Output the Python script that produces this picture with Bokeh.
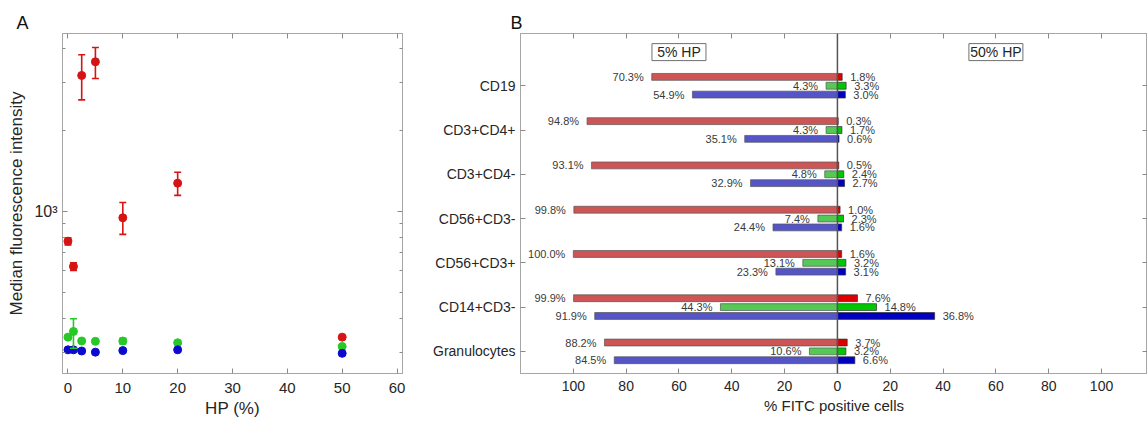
from bokeh.plotting import figure
from bokeh.models import (Range1d, FixedTicker, LinearAxis, LogAxis, Whisker,
                          TeeHead, ColumnDataSource, Span)
from bokeh.layouts import row
from bokeh.embed import file_html
from bokeh.resources import INLINE
from bokeh.core.properties import value

# ---------------- Panel A data ----------------
hp = [0, 1, 2.5, 5, 10, 20, 50]
red_mfi = [774, 624, 3187, 3581, 945, 1270, 341]
red_lo = [750, 603, 2588, 3105, 820, 1144, 341]
red_hi = [797, 644, 3802, 4047, 1077, 1395, 341]
green_mfi = [341, 358, 330, 329, 330, 325, 315]
green_lo = [341, 310, 330, 329, 322, 325, 315]
green_hi = [341, 399, 330, 329, 338, 325, 315]
blue_mfi = [306, 306, 303, 300, 304, 306, 297]
blue_lo = [306, 306, 303, 300, 304, 306, 297]
blue_hi = [306, 306, 303, 300, 304, 306, 297]

a_xticks = [0, 10, 20, 30, 40, 50, 60]
a_yticks = [1000]
a_yminor = [300, 400, 500, 600, 700, 800, 900, 2000, 3000, 4000]

# ---------------- Panel B data ----------------
cells = ["CD19", "CD3+CD4+", "CD3+CD4-", "CD56+CD3-", "CD56+CD3+", "CD14+CD3-", "Granulocytes"]
red5 = [70.3, 94.8, 93.1, 99.8, 100.0, 99.9, 88.2]
green5 = [4.3, 4.3, 4.8, 7.4, 13.1, 44.3, 10.6]
blue5 = [54.9, 35.1, 32.9, 24.4, 23.3, 91.9, 84.5]
red50 = [1.8, 0.3, 0.5, 1.0, 1.6, 7.6, 3.7]
green50 = [3.3, 1.7, 2.4, 2.3, 3.2, 14.8, 3.2]
blue50 = [3.0, 0.6, 2.7, 1.6, 3.1, 36.8, 6.6]
b_xticks = [-100, -80, -60, -40, -20, 0, 20, 40, 60, 80, 100]
group_labels = ["5% HP", "50% HP"]
group_x = [-60, 60]

FONT = "Liberation Sans"
TXT = "#262626"
FRAME = "#a6a6a6"
TICK = "#8a8a8a"


def style_axis(ax, labels=True, fs="15px"):
    ax.axis_line_color = FRAME
    ax.major_tick_line_color = TICK
    ax.minor_tick_line_color = TICK
    ax.major_tick_in = 5
    ax.major_tick_out = 0
    ax.minor_tick_in = 3
    ax.minor_tick_out = 0
    ax.major_label_text_font = FONT
    ax.major_label_text_color = TXT
    ax.axis_label_text_font = FONT
    ax.axis_label_text_color = TXT
    ax.axis_label_text_font_style = "normal"
    if labels:
        ax.major_label_text_font_size = fs
    else:
        ax.major_label_text_font_size = "1px"
        ax.major_label_text_alpha = 0
        ax.major_label_standoff = 0
        ax.axis_label_standoff = 0


def panel_letter(p, letter, offset):
    p.title.text = letter
    p.title.align = "left"
    p.title.offset = offset
    p.title.text_font = FONT
    p.title.text_font_size = "18px"
    p.title.text_font_style = "normal"
    p.title.text_color = "#111111"
    p.title.standoff = 2


# ================= Panel A =================
pA = figure(width=430, height=422, x_range=Range1d(-1, 61), y_range=Range1d(250, 4560),
            y_axis_type="log", output_backend="svg", toolbar_location=None,
            min_border_left=62, min_border_right=28, min_border_top=33, min_border_bottom=49)
pA.xgrid.visible = False
pA.ygrid.visible = False
pA.outline_line_color = FRAME

pA.xaxis.ticker = FixedTicker(ticks=a_xticks)
pA.yaxis.ticker = FixedTicker(ticks=a_yticks, minor_ticks=a_yminor)
pA.yaxis.major_label_overrides = {1000: "10\u00b3"}
pA.xaxis.axis_label = "HP (%)"
pA.yaxis.axis_label = "Median fluorescence intensity"
for ax in pA.xaxis + pA.yaxis:
    style_axis(ax)
    ax.axis_label_text_font_size = "17px"
pA.yaxis.major_label_text_font_size = "16px"
pA.xaxis.major_label_standoff = 9
pA.xaxis.axis_label_standoff = 3
pA.yaxis.major_label_standoff = 5
pA.yaxis.axis_label_standoff = 5

top_ax = LinearAxis(ticker=FixedTicker(ticks=a_xticks))
style_axis(top_ax, labels=False)
pA.add_layout(top_ax, "above")
right_ax = LogAxis(ticker=FixedTicker(ticks=a_yticks, minor_ticks=a_yminor))
style_axis(right_ax, labels=False)
pA.add_layout(right_ax, "right")

series = [
    (red_mfi, red_lo, red_hi, "#d61414"),
    (green_mfi, green_lo, green_hi, "#27c927"),
    (blue_mfi, blue_lo, blue_hi, "#0a0ad0"),
]
for mfi, lo, hi, col in series:
    idx = [i for i in range(len(hp)) if hi[i] > lo[i]]
    src = ColumnDataSource(dict(x=[hp[i] for i in idx], lo=[lo[i] for i in idx],
                                hi=[hi[i] for i in idx]))
    w = Whisker(base="x", lower="lo", upper="hi", source=src, dimension="height",
                line_color=col, line_width=1.6, level="glyph",
                upper_head=TeeHead(size=7, line_color=col, line_width=1.6),
                lower_head=TeeHead(size=7, line_color=col, line_width=1.6))
    pA.add_layout(w)
for mfi, lo, hi, col in series:
    pA.scatter(hp, mfi, size=8, fill_color=col, line_color=col)

panel_letter(pA, "A", -46)

# ================= Panel B =================
n = len(cells)
ypos = [n - i for i in range(n)]
off = 0.2
bar_h = 0.155
label_y = n + 0.76

pB = figure(width=717, height=422, x_range=Range1d(-120, 117.4), y_range=Range1d(0.5, 8.18),
            output_backend="svg", toolbar_location=None,
            min_border_left=86, min_border_right=0, min_border_top=32, min_border_bottom=46)
pB.xgrid.visible = False
pB.ygrid.visible = False
pB.outline_line_color = FRAME

pB.xaxis.ticker = FixedTicker(ticks=b_xticks)
pB.xaxis.major_label_overrides = {t: str(abs(t)) for t in b_xticks}
pB.yaxis.ticker = FixedTicker(ticks=ypos)
pB.yaxis.major_label_overrides = {y: c for y, c in zip(ypos, cells)}
pB.xaxis.axis_label = "% FITC positive cells"
for ax in pB.xaxis:
    style_axis(ax, fs="14px")
    ax.axis_label_text_font_size = "15px"
    ax.major_label_standoff = 7
    ax.axis_label_standoff = 3
for ax in pB.yaxis:
    style_axis(ax, fs="14px")
    ax.major_label_standoff = 5

topB = LinearAxis(ticker=FixedTicker(ticks=b_xticks))
style_axis(topB, labels=False)
pB.add_layout(topB, "above")
rightB = LinearAxis(ticker=FixedTicker(ticks=ypos))
style_axis(rightB, labels=False)
pB.add_layout(rightB, "right")

bars = [
    (red5, red50, off, "#cd5555", "#dd0000"),
    (green5, green50, 0.0, "#55c855", "#00c800"),
    (blue5, blue50, -off, "#5555c8", "#0000c0"),
]
for v5, v50, dy, light, dark in bars:
    ys = [y + dy for y in ypos]
    left5 = [-v for v in v5]
    zeros = [0] * n
    pB.hbar(y=ys, left=left5, right=zeros, height=bar_h, fill_color=light,
            line_color="#555555", line_width=0.7)
    pB.hbar(y=ys, left=zeros, right=v50, height=bar_h, fill_color=dark,
            line_color="#333333", line_width=0.7)
    pB.text(x=left5, y=ys, text=[f"{v:.1f}%" for v in v5], text_align="right",
            text_baseline="middle", x_offset=-8, text_font=value(FONT),
            text_font_size="11px", text_color="#3a3a3a")
    pB.text(x=v50, y=ys, text=[f"{v:.1f}%" for v in v50], text_align="left",
            text_baseline="middle", x_offset=8, text_font=value(FONT),
            text_font_size="11px", text_color="#3a3a3a")

pB.add_layout(Span(location=0, dimension="height", line_color="#555555", line_width=1.5))

pB.rect(x=group_x, y=[label_y] * 2, width=54, height=17, width_units="screen",
        height_units="screen", fill_color="white", line_color="#707070", line_width=1)
pB.text(x=group_x, y=[label_y] * 2, text=group_labels, text_align="center",
        text_baseline="middle", text_font=value(FONT), text_font_size="14px",
        text_color=TXT)

panel_letter(pB, "B", -10)

layout = row(pA, pB)
open("out.html", "w").write(file_html(layout, INLINE))
